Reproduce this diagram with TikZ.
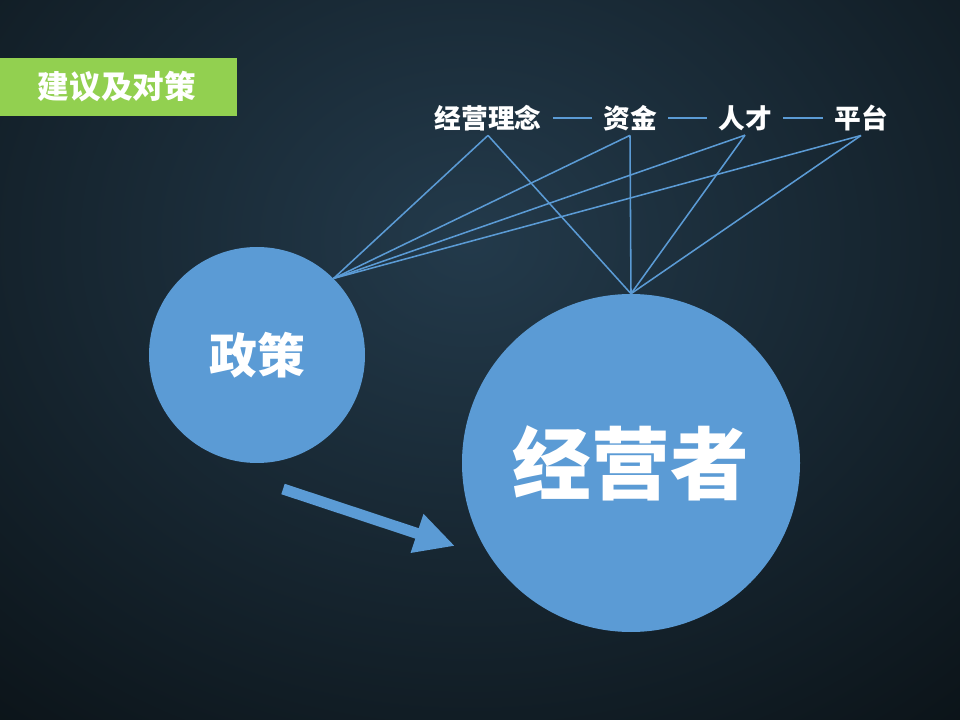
\documentclass[tikz,border=0pt]{standalone}
\usepackage{fontspec}
\setmainfont{Noto Sans CJK SC}
\usetikzlibrary{arrows.meta}
\definecolor{bgin}{HTML}{233A4B}
\definecolor{bgout}{HTML}{0B1318}
\definecolor{ballblue}{HTML}{5B9BD5}
\definecolor{tabgreen}{HTML}{92D050}
\tikzset{
  ball/.style={circle, fill=ballblue, text=white, font=\bfseries, inner sep=0pt},
  keyword/.style={text=white, font=\bfseries\fontsize{19}{19}\selectfont, inner sep=3pt},
  link/.style={draw=ballblue, line width=1.1pt},
  bigarrow/.style={draw=ballblue, line width=7.8pt, -{Triangle[length=1cm, width=0.95cm]}}
}
\begin{document}
\begin{tikzpicture}[x=0.025cm, y=-0.025cm]
% background
\useasboundingbox (0,0) rectangle (960,720);
\begin{scope}
\clip (0,0) rectangle (960,720);
\fill[bgout] (0,0) rectangle (960,720);
\shade[inner color=bgin, outer color=bgout] (470,240) ellipse [x radius=780, y radius=640];
\end{scope}

% title tab
\fill[tabgreen] (0,58) rectangle (237,116);
\node (title) [text=white, font=\bfseries\fontsize{22.5}{22.5}\selectfont] at (117,87) {建议及对策};

% keywords
\node (idea) [keyword] at (488,118) {经营理念};
\node (fund) [keyword] at (630,118) {资金};
\node (talent) [keyword] at (745,118) {人才};
\node (base) [keyword] at (861,118) {平台};

\draw [link, shorten <=5pt, shorten >=5pt] (idea) -- (fund);
\draw [link, shorten <=5pt, shorten >=5pt] (fund) -- (talent);
\draw [link, shorten <=5pt, shorten >=5pt] (talent) -- (base);

% circles
\node (policy) [ball, minimum size=216*0.025cm, font=\bfseries\fontsize{34}{34}\selectfont] at (257,355) {政策};
\node (boss) [ball, minimum size=338*0.025cm, font=\bfseries\fontsize{56}{56}\selectfont] at (631,463) {经营者};

% fan lines
\foreach \k in {idea, fund, talent, base} {
  \draw [link] (\k.south) -- (policy.45);
  \draw [link] (\k.south) -- (boss.north);
}

% arrow
\coordinate (tail) at (283,489);
\coordinate (tip) at (455,546);
\draw [bigarrow] (tail) -- (tip);

\end{tikzpicture}
\end{document}
